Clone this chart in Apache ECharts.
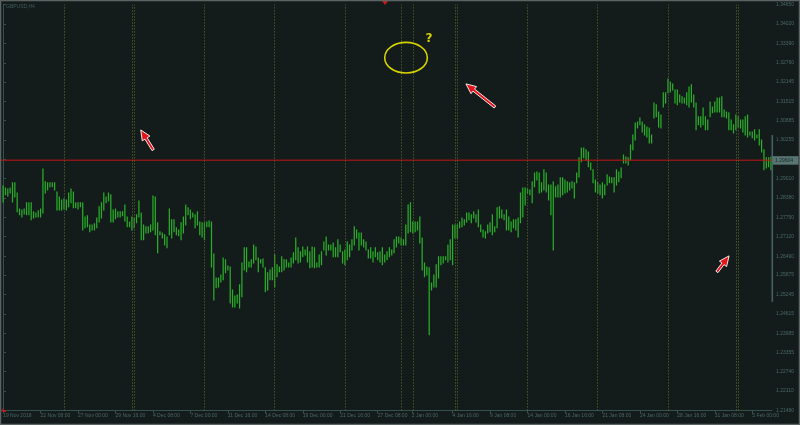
<!DOCTYPE html>
<html><head><meta charset="utf-8">
<script src="https://cdn.jsdelivr.net/npm/echarts@6/dist/echarts.min.js"></script>
<style>html,body{margin:0;padding:0;background:#131b1b}#c{width:800px;height:425px}</style>
</head><body><div id="c"></div>
<script>
const symbolName = 'GBPUSD,H4';
const highs = [
1.2877,1.2870,1.2867,1.2870,1.2887,1.2887,1.2854,1.2802,1.2799,1.2802,
1.2822,1.2822,1.2822,1.2793,1.2789,1.2796,1.2802,1.2932,1.2890,1.2887,
1.2887,1.2887,1.2887,1.2857,1.2841,1.2831,1.2835,1.2831,1.2854,1.2867,
1.2857,1.2822,1.2822,1.2822,1.2822,1.2776,1.2780,1.2750,1.2750,1.2754,
1.2773,1.2809,1.2822,1.2854,1.2841,1.2854,1.2848,1.2799,1.2802,1.2793,
1.2793,1.2793,1.2815,1.2776,1.2760,1.2776,1.2773,1.2783,1.2828,1.2789,
1.2750,1.2744,1.2744,1.2750,1.2844,1.2841,1.2757,1.2728,1.2724,1.2718,
1.2711,1.2802,1.2767,1.2767,1.2741,1.2734,1.2757,1.2776,1.2815,1.2806,
1.2799,1.2789,1.2783,1.2793,1.2760,1.2757,1.2757,1.2760,1.2763,1.2760,
1.2656,1.2578,1.2578,1.2588,1.2643,1.2637,1.2617,1.2614,1.2539,1.2520,
1.2523,1.2556,1.2627,1.2676,1.2676,1.2630,1.2637,1.2685,1.2679,1.2643,
1.2637,1.2640,1.2611,1.2595,1.2604,1.2611,1.2653,1.2621,1.2614,1.2647,
1.2637,1.2637,1.2627,1.2643,1.2660,1.2708,1.2676,1.2663,1.2679,1.2669,
1.2679,1.2663,1.2679,1.2676,1.2627,1.2653,1.2663,1.2695,1.2711,1.2685,
1.2685,1.2692,1.2676,1.2702,1.2685,1.2663,1.2669,1.2695,1.2685,1.2702,
1.2744,1.2734,1.2724,1.2724,1.2702,1.2695,1.2669,1.2676,1.2663,1.2676,
1.2660,1.2663,1.2676,1.2653,1.2663,1.2676,1.2669,1.2702,1.2711,1.2711,
1.2708,1.2702,1.2750,1.2815,1.2822,1.2760,1.2760,1.2760,1.2776,1.2708,
1.2627,1.2614,1.2611,1.2562,1.2588,1.2621,1.2647,1.2647,1.2647,1.2647,
1.2685,1.2702,1.2750,1.2750,1.2750,1.2760,1.2773,1.2767,1.2789,1.2789,
1.2783,1.2793,1.2783,1.2799,1.2750,1.2734,1.2728,1.2750,1.2757,1.2783,
1.2744,1.2806,1.2809,1.2799,1.2783,1.2799,1.2776,1.2760,1.2767,1.2767,
1.2773,1.2854,1.2870,1.2870,1.2867,1.2864,1.2890,1.2919,1.2922,1.2919,
1.2887,1.2929,1.2919,1.2880,1.2880,1.2890,1.2874,1.2880,1.2903,1.2903,
1.2896,1.2890,1.2887,1.2890,1.2887,1.2919,1.2968,1.3000,1.3000,1.2994,
1.2987,1.2951,1.2929,1.2896,1.2887,1.2880,1.2887,1.2880,1.2913,1.2906,
1.2903,1.2903,1.2929,1.2922,1.2935,1.2977,1.2971,1.2968,1.3010,1.3042,
1.3081,1.3084,1.3097,1.3084,1.3075,1.3068,1.3065,1.3042,1.3146,1.3140,
1.3117,1.3107,1.3179,1.3179,1.3224,1.3214,1.3208,1.3188,1.3188,1.3172,
1.3166,1.3162,1.3179,1.3198,1.3205,1.3172,1.3146,1.3101,1.3101,1.3130,
1.3101,1.3091,1.3149,1.3133,1.3149,1.3162,1.3162,1.3166,1.3123,1.3117,
1.3114,1.3091,1.3075,1.3107,1.3101,1.3091,1.3091,1.3101,1.3107,1.3052,
1.3052,1.3059,1.3042,1.3059,1.3026,1.2994,1.2968,1.2968,1.2971
];
const lows = [
1.2825,1.2848,1.2844,1.2854,1.2825,1.2841,1.2793,1.2783,1.2776,1.2786,
1.2783,1.2783,1.2767,1.2773,1.2776,1.2776,1.2776,1.2789,1.2854,1.2864,
1.2874,1.2874,1.2864,1.2799,1.2799,1.2799,1.2802,1.2799,1.2809,1.2822,
1.2806,1.2806,1.2802,1.2809,1.2734,1.2741,1.2744,1.2728,1.2734,1.2734,
1.2741,1.2760,1.2773,1.2799,1.2822,1.2828,1.2760,1.2760,1.2770,1.2776,
1.2776,1.2780,1.2763,1.2744,1.2744,1.2734,1.2741,1.2757,1.2776,1.2702,
1.2702,1.2724,1.2724,1.2728,1.2734,1.2718,1.2660,1.2718,1.2708,1.2685,
1.2676,1.2718,1.2708,1.2728,1.2718,1.2715,1.2702,1.2724,1.2750,1.2783,
1.2770,1.2776,1.2741,1.2750,1.2718,1.2711,1.2702,1.2744,1.2744,1.2614,
1.2507,1.2546,1.2549,1.2565,1.2572,1.2595,1.2604,1.2497,1.2484,1.2484,
1.2497,1.2481,1.2517,1.2604,1.2598,1.2614,1.2614,1.2627,1.2637,1.2598,
1.2627,1.2614,1.2533,1.2539,1.2572,1.2572,1.2549,1.2582,1.2598,1.2598,
1.2604,1.2614,1.2614,1.2614,1.2627,1.2637,1.2627,1.2630,1.2647,1.2653,
1.2630,1.2611,1.2614,1.2611,1.2614,1.2614,1.2621,1.2669,1.2653,1.2669,
1.2669,1.2647,1.2647,1.2647,1.2663,1.2627,1.2621,1.2637,1.2647,1.2669,
1.2685,1.2708,1.2669,1.2685,1.2679,1.2669,1.2643,1.2643,1.2630,1.2647,
1.2637,1.2630,1.2621,1.2630,1.2637,1.2647,1.2653,1.2660,1.2679,1.2692,
1.2685,1.2685,1.2685,1.2724,1.2728,1.2724,1.2728,1.2734,1.2692,1.2604,
1.2582,1.2588,1.2394,1.2539,1.2549,1.2549,1.2578,1.2621,1.2627,1.2637,
1.2630,1.2637,1.2621,1.2708,1.2708,1.2741,1.2744,1.2750,1.2760,1.2767,
1.2757,1.2773,1.2760,1.2744,1.2728,1.2711,1.2708,1.2724,1.2728,1.2718,
1.2728,1.2741,1.2773,1.2773,1.2767,1.2734,1.2734,1.2728,1.2741,1.2734,
1.2711,1.2757,1.2776,1.2815,1.2854,1.2848,1.2822,1.2874,1.2896,1.2854,
1.2857,1.2864,1.2857,1.2831,1.2783,1.2669,1.2841,1.2841,1.2841,1.2848,
1.2854,1.2857,1.2864,1.2870,1.2838,1.2887,1.2906,1.2955,1.2968,1.2961,
1.2939,1.2929,1.2887,1.2857,1.2854,1.2848,1.2838,1.2848,1.2880,1.2887,
1.2887,1.2857,1.2880,1.2890,1.2903,1.2951,1.2951,1.2945,1.2961,1.2994,
1.3026,1.3065,1.3075,1.3052,1.3042,1.3036,1.3016,1.3016,1.3097,1.3101,
1.3068,1.3065,1.3133,1.3146,1.3179,1.3182,1.3188,1.3146,1.3140,1.3149,
1.3146,1.3146,1.3140,1.3133,1.3149,1.3133,1.3059,1.3075,1.3068,1.3075,
1.3059,1.3059,1.3101,1.3114,1.3117,1.3117,1.3117,1.3101,1.3101,1.3097,
1.3059,1.3059,1.3049,1.3059,1.3068,1.3065,1.3052,1.3042,1.3036,1.3042,
1.3033,1.3026,1.3033,1.3010,1.2987,1.2929,1.2935,1.2939,1.2929
];
const priceTicks = [1.34650,1.34020,1.33390,1.32760,1.32145,1.31515,1.30885,1.30255,1.29625,1.29010,1.28380,1.27750,1.27120,1.26490,1.25875,1.25245,1.24615,1.23985,1.23355,1.22740,1.22110,1.21480];
const timeTickBars = [0,16,32,48,64,80,96,112,128,144,160,174.6,192,208,224,240,256,272,288,304,320];
const timeTickLabels = ['19 Nov 2018','22 Nov 08:00','27 Nov 00:00','29 Nov 16:00','4 Dec 08:00','7 Dec 00:00','11 Dec 16:00','14 Dec 08:00','19 Dec 00:00','21 Dec 16:00','27 Dec 08:00','2 Jan 00:00','4 Jan 16:00','9 Jan 08:00','14 Jan 00:00','16 Jan 16:00','21 Jan 08:00','24 Jan 00:00','28 Jan 16:00','31 Jan 08:00','5 Feb 00:00'];
const separatorBars = [26,55,56,86,116,146,170,175,193,194,224,254,284,313,314];
const levelPrice = 1.29604;
const levelText = '1.29604';

const BG = '#131b1b', AX = '#34504f', TXT = '#4a6766', BAR = '#2aae2a';
const X_MIN = -1.337, X_MAX = 328.44;
const chart = echarts.init(document.getElementById('c'), null, {renderer: 'canvas'});
const barData = highs.map((h, i) => [i, h, lows[i]]);

chart.setOption({
  animation: false,
  backgroundColor: BG,
  grid: {left: 0, right: 28, top: 4.7, bottom: 14.5, containLabel: false, outerBoundsMode: 'none'},
  xAxis: {
    type: 'value', min: X_MIN, max: X_MAX,
    axisLine: {show: true, lineStyle: {color: AX, width: 1}},
    axisTick: {show: true, length: 3, customValues: timeTickBars, lineStyle: {color: AX}},
    axisLabel: {show: true, customValues: timeTickBars, align: 'left', margin: 2.5,
      fontSize: 5, fontFamily: 'Liberation Sans', color: TXT, showMinLabel: true, showMaxLabel: true,
      formatter: v => { const k = timeTickBars.findIndex(b => Math.abs(b - v) < 1e-6); return k >= 0 ? timeTickLabels[k] : ''; }},
    splitLine: {show: false}
  },
  yAxis: {
    type: 'value', position: 'right', min: 1.2148, max: 1.3465,
    axisLine: {show: true, lineStyle: {color: AX, width: 1}},
    axisTick: {show: true, length: 3, customValues: priceTicks, lineStyle: {color: AX}},
    axisLabel: {show: true, customValues: priceTicks, margin: 4, fontSize: 5, fontFamily: 'Liberation Sans',
      color: TXT, showMinLabel: true, showMaxLabel: true, formatter: v => v.toFixed(5)},
    splitLine: {show: false}
  },
  series: [{
    type: 'line',
    data: [[X_MIN, levelPrice], [X_MAX, levelPrice]],
    showSymbol: false, silent: true, z: 4,
    lineStyle: {color: '#c81414', width: 1},
    markLine: {
      silent: true, symbol: 'none', animation: false,
      data: separatorBars.map(b => ({xAxis: b, lineStyle: {color: '#57652c', width: 1, type: [1.2, 1.8]}, label: {show: false}}))
    }
  }, {
    type: 'custom',
    data: barData,
    encode: {x: 0, y: [1, 2]},
    clip: true,
    z: 3,
    renderItem: (params, api) => {
      const i = api.value(0);
      const p1 = api.coord([i, api.value(1)]);
      const p2 = api.coord([i, api.value(2)]);
      return {type: 'line', shape: {x1: p1[0], y1: p1[1] - 0.5, x2: p2[0], y2: p2[1] + 0.5},
        style: {stroke: BAR, lineWidth: 1.25}};
    }
  }]
});

// annotations anchored at (bar index, price)
const notes = {
  ellipse: {at: [172.1, 1.32931], rx: 21.3, ry: 15.3},
  question: {at: [181.9, 1.33537], text: '?'},
  arrows: [
    {tip: [197.7, 1.32080], tail: [210.1, 1.31330]},
    {tip: [58.8, 1.30585], tail: [64.1, 1.29937]},
    {tip: [310.1, 1.26498], tail: [304.9, 1.25979]}
  ],
  axisHighlight: [1.30423, 1.25005]
};
const px = p => chart.convertToPixel({gridIndex: 0}, p);
function arrowPts(t, s, hl, hw, sw) {
  const dx = t[0] - s[0], dy = t[1] - s[1], L = Math.hypot(dx, dy);
  const ux = dx / L, uy = dy / L, nx = -uy, ny = ux;
  const bx = t[0] - ux * hl, by = t[1] - uy * hl;
  return [[t[0], t[1]], [bx + nx * hw, by + ny * hw], [bx + nx * sw, by + ny * sw],
    [s[0] + nx * sw, s[1] + ny * sw], [s[0] - nx * sw, s[1] - ny * sw],
    [bx - nx * sw, by - ny * sw], [bx - nx * hw, by - ny * hw]];
}
const g = [];
const ec = px(notes.ellipse.at);
g.push({type: 'ellipse', shape: {cx: ec[0], cy: ec[1], rx: notes.ellipse.rx, ry: notes.ellipse.ry},
  style: {fill: null, stroke: '#d6d300', lineWidth: 1.6}, z: 10});
const qc = px(notes.question.at);
g.push({type: 'text', x: qc[0], y: qc[1], style: {text: notes.question.text, fill: '#d6d300', font: 'bold 12px "DejaVu Sans"',
  textAlign: 'center', textVerticalAlign: 'middle'}, z: 10});
notes.arrows.forEach(a => {
  const t = px(a.tip), s = px(a.tail);
  g.push({type: 'polygon', shape: {points: arrowPts(t, s, 10, 4.5, 1.3)},
    style: {fill: '#e3141a', stroke: '#ffffff', lineWidth: 0.9, lineJoin: 'round'}, z: 10});
});
const ya = px([X_MAX, notes.axisHighlight[0]]), yb = px([X_MAX, notes.axisHighlight[1]]);
g.push({type: 'rect', shape: {x: ya[0] - 0.5, y: ya[1], width: 1.6, height: yb[1] - ya[1]}, style: {fill: '#46625f'}, z: 5});
// current price box on the price scale
const lp = px([X_MAX, levelPrice]);
g.push({type: 'rect', shape: {x: lp[0] + 0.5, y: lp[1] - 4, width: 26, height: 8.5}, style: {fill: '#587574'}, z: 11});
g.push({type: 'text', x: lp[0] + 3, y: lp[1] + 0.3, style: {text: levelText, fill: '#1a2727', font: '5px "Liberation Sans"',
  textVerticalAlign: 'middle'}, z: 12});
// title
g.push({type: 'text', x: 6, y: 4.5, style: {text: symbolName, fill: '#3f5d5b', font: '5px "Liberation Sans"'}, z: 10});
// small red markers (chart shift / bottom-left)
g.push({type: 'polygon', shape: {points: [[382, 1], [388, 1], [385, 5]]}, style: {fill: '#d01818'}, z: 10});
g.push({type: 'polygon', shape: {points: [[2.5, 408], [2.5, 412], [6.5, 412]]}, style: {fill: '#d01818'}, z: 10});
// window frame
g.push({type: 'rect', shape: {x: 0, y: 0, width: 800, height: 425}, style: {fill: null, stroke: '#5b6363', lineWidth: 2.5}, z: 10});
chart.setOption({graphic: g});
</script>
</body></html>
